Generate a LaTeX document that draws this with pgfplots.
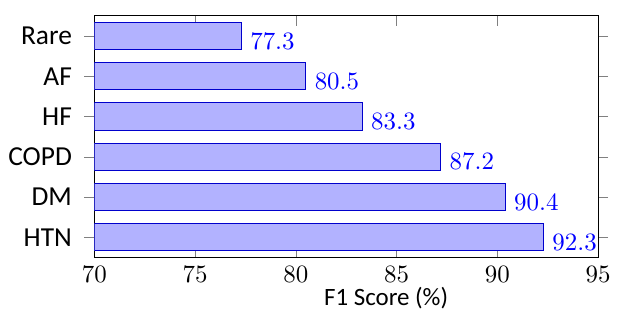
\documentclass[border=0pt]{standalone}
\usepackage{fontspec}
\setmainfont{Carlito}
\usepackage{pgfplots}
\pgfplotsset{compat=1.18}
\begin{document}
\begin{tikzpicture}
\begin{axis}[
  scale only axis,
  width=202pt, height=96.8pt,
  xbar,
  xmin=70, xmax=95,
  ymin=-0.5, ymax=5.5,
  xtick={70,75,80,85,90,95},
  ytick={0,1,2,3,4,5},
  yticklabels={HTN,DM,COPD,HF,AF,Rare},
  bar width=0.68,
  xlabel={F1 Score (\%)},
  xlabel style={xshift=16pt, yshift=5pt},
  ytick align=outside,
  xtick align=inside,
  major tick length=4pt,
  ytick style={gray},
  xtick style={gray},
  nodes near coords,
  nodes near coords style={blue, font=\normalsize, yshift=-2pt},
  xticklabel style={font=\normalsize},
  yticklabel style={font=\fontsize{11}{13}\selectfont, xshift=-1.5pt},
]
\addplot[draw=blue!80!black, fill=blue!30] coordinates {
  (92.3,0) (90.4,1) (87.2,2) (83.3,3) (80.5,4) (77.3,5)
};
\end{axis}
\path (-37.2pt,-28.8pt) rectangle (213.6pt,103.2pt);
\end{tikzpicture}
\end{document}
